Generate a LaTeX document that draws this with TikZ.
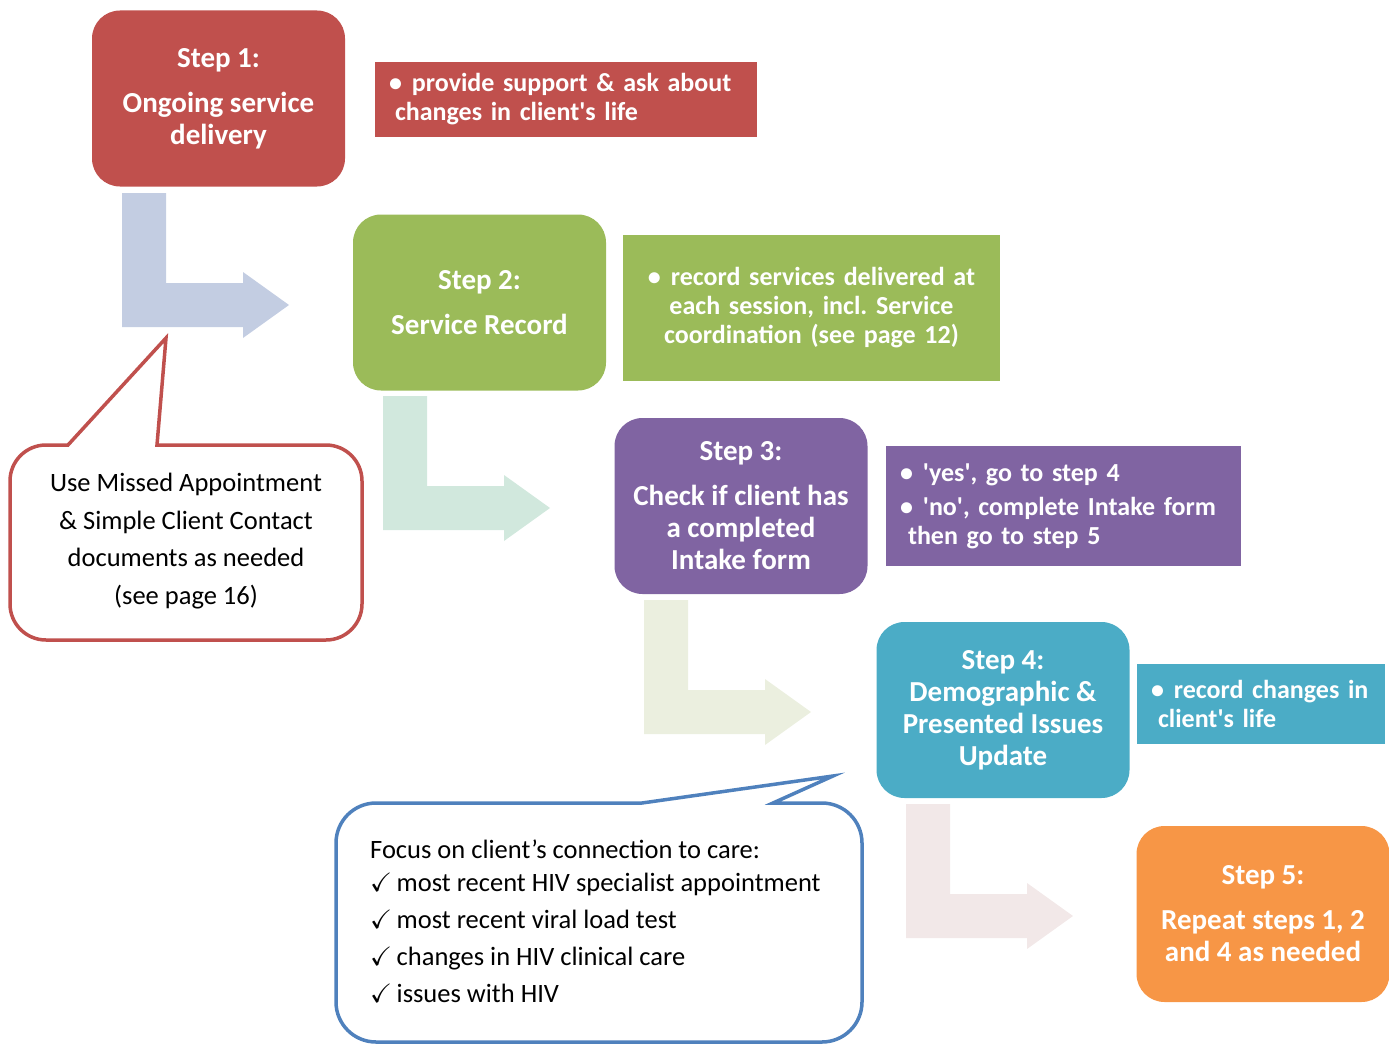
\documentclass[tikz,border=0pt]{standalone}
\usepackage{amssymb}
\usepackage{fontspec}
\setmainfont{Carlito}
\frenchspacing

\definecolor{stepred}{HTML}{C0504D}
\definecolor{stepgreen}{HTML}{9BBB59}
\definecolor{steppurple}{HTML}{8064A2}
\definecolor{stepteal}{HTML}{4BACC6}
\definecolor{steporange}{HTML}{F79646}
\definecolor{arrowblue}{HTML}{C3CDE2}
\definecolor{arrowmint}{HTML}{D1E8DD}
\definecolor{arrowbeige}{HTML}{EBEFDF}
\definecolor{arrowpink}{HTML}{F2E8E8}
\definecolor{calloutblue}{HTML}{4F81BD}

\begin{document}
\begin{tikzpicture}[x=1pt,y=-1pt,
		stepbox/.style={rounded corners=28pt,minimum width=253pt,minimum height=176pt,inner sep=0pt,
			align=center,text=white,font=\bfseries\fontsize{29}{32}\selectfont},
		infobox/.style={inner xsep=14pt,inner ysep=0pt,align=left,text=white,
			font=\bfseries\fontsize{26}{29}\selectfont},
		bubble/.style={line width=3.5pt,fill=white,line join=miter}
	]
	\useasboundingbox (0,0) rectangle (1389,1046);

	% bent arrows between the steps
	\fill[arrowblue,shift={(122,193)}] (0,0) -- (44,0) -- (44,90) -- (121,90) -- (121,79) -- (167,112) -- (121,145) -- (121,134) -- (0,134) -- cycle;
	\fill[arrowmint,shift={(383,396)}] (0,0) -- (44,0) -- (44,90) -- (121,90) -- (121,79) -- (167,112) -- (121,145) -- (121,134) -- (0,134) -- cycle;
	\fill[arrowbeige,shift={(644,600)}] (0,0) -- (44,0) -- (44,90) -- (121,90) -- (121,79) -- (167,112) -- (121,145) -- (121,134) -- (0,134) -- cycle;
	\fill[arrowpink,shift={(906,804)}] (0,0) -- (44,0) -- (44,90) -- (121,90) -- (121,79) -- (167,112) -- (121,145) -- (121,134) -- (0,134) -- cycle;

	% steps
	\node[stepbox,fill=stepred] (step1) at (218.5,98.5) {Step 1:\\[13pt]Ongoing service\\delivery};
	\node[stepbox,fill=stepgreen] (step2) at (479.5,302.5) {Step 2:\\[13pt]Service Record};
	\node[stepbox,fill=steppurple] (step3) at (741,506) {Step 3:\\[13pt]Check if client has\\a completed\\Intake form};
	\node[stepbox,fill=stepteal] (step4) at (1003,710) {Step 4:\\Demographic \&\\Presented Issues\\Update};
	\node[stepbox,fill=steporange] (step5) at (1263,914) {Step 5:\\[13pt]Repeat steps 1, 2\\and 4 as needed};

	% notes beside the steps
	\node[infobox,fill=stepred,text width=354pt,minimum height=75pt] (info1) at (566,99.5)
		{\textbullet\hspace{10pt}provide support \& ask about\\\hspace*{6pt}changes in client\textquotesingle s life};
	\node[infobox,fill=stepgreen,align=center,text width=349pt,minimum height=146pt] (info2) at (811.5,308)
		{\textbullet\hspace{10pt}record services delivered at\\each session, incl. Service\\coordination (see page 12)};
	\node[infobox,fill=steppurple,text width=327pt,minimum height=120pt] (info3) at (1063.5,506)
		{\textbullet\hspace{10pt}\textquotesingle yes\textquotesingle, go to step 4\\[5pt]\textbullet\hspace{10pt}\textquotesingle no\textquotesingle, complete Intake form\\\hspace*{8pt}then go to step 5};
	\node[infobox,fill=stepteal,text width=220pt,minimum height=80pt] (info4) at (1261,704)
		{\textbullet\hspace{10pt}record changes in\\\hspace*{7pt}client\textquotesingle s life};

	% callouts
	\draw[bubble,draw=stepred] (68,445) -- (166,338) -- (157,445) -- (326,445) arc[start angle=270,end angle=360,radius=36]
		-- (362,604) arc[start angle=0,end angle=90,radius=36] -- (46,640) arc[start angle=90,end angle=180,radius=36]
		-- (10,481) arc[start angle=180,end angle=270,radius=36] -- cycle;
	\node[font=\fontsize{26.5}{37.5}\selectfont,align=center] (note1) at (186,541)
		{Use Missed Appointment\\\& Simple Client Contact\\documents as needed\\(see page 16)};

	\draw[bubble,draw=calloutblue] (642,803) -- (833,776) -- (773,803) -- (822,803) arc[start angle=270,end angle=360,radius=40]
		-- (862,1002) arc[start angle=0,end angle=90,radius=40] -- (376,1042) arc[start angle=90,end angle=180,radius=40]
		-- (336,843) arc[start angle=180,end angle=270,radius=40] -- cycle;
	\node[font=\fontsize{26.5}{37}\selectfont,align=left,anchor=west,inner sep=0pt] (note2) at (370,921)
		{Focus on client’s connection to care:\\[-4pt]$\checkmark$\,most recent HIV specialist appointment\\$\checkmark$\,most recent viral load test\\$\checkmark$\,changes in HIV clinical care\\$\checkmark$\,issues with HIV};
\end{tikzpicture}
\end{document}
